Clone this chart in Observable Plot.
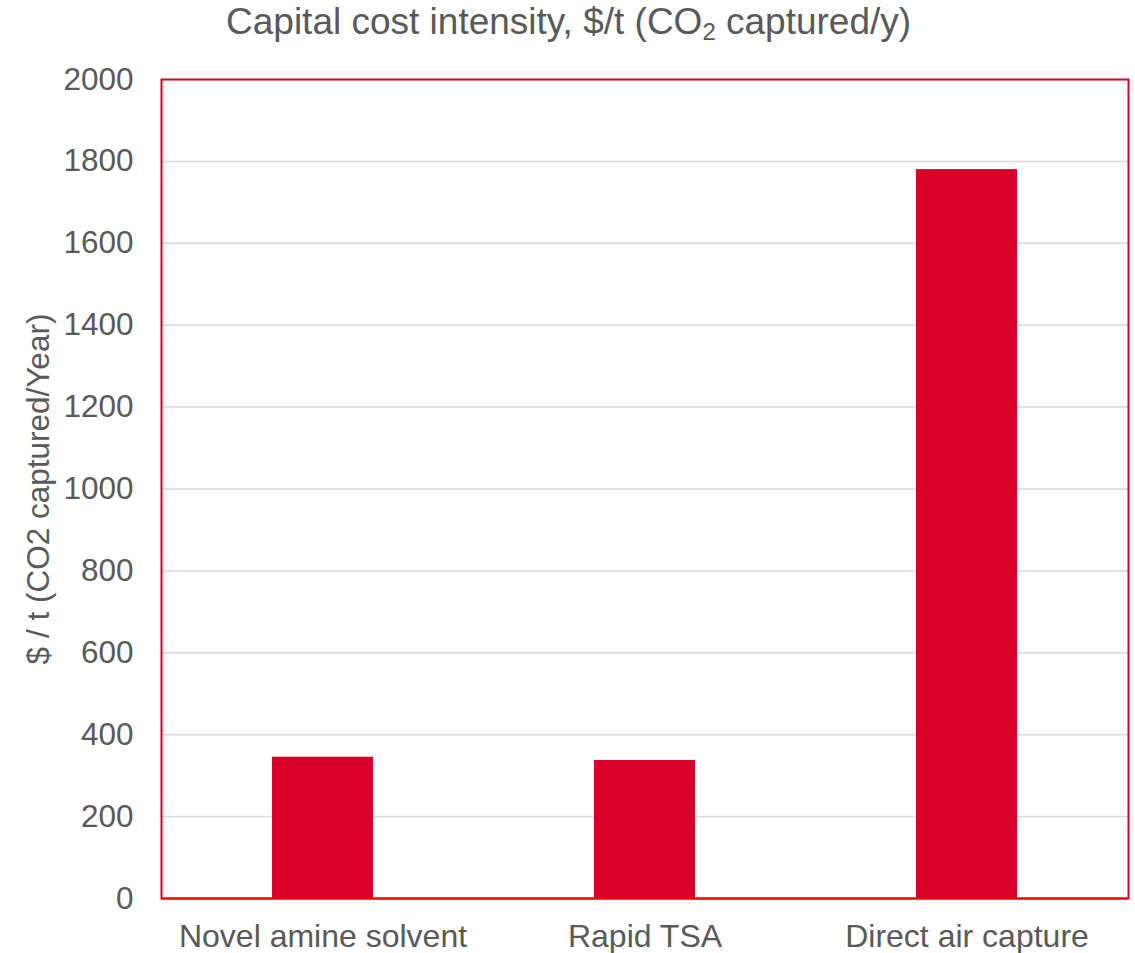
<!DOCTYPE html>
<html>
<head>
<meta charset="utf-8">
<script src="https://cdn.jsdelivr.net/npm/d3@7"></script>
<script src="https://cdn.jsdelivr.net/npm/@observablehq/plot@0.6"></script>
<style>
  body { margin: 0; background: #fff; }
  #chart { position: relative; width: 1135px; font-family: "Liberation Sans", Arial, sans-serif; color: #595959; }
  #title { height: 60px; position: relative; }
  #title span { position: absolute; left: 226px; top: 3px; font-size: 37px; line-height: 37px; white-space: nowrap; }
  #title sub { font-size: 0.65em; vertical-align: -0.25em; line-height: 0; }
  svg { display: block; }
</style>
</head>
<body>
<div id="chart">
  <div id="title"><span>Capital cost intensity, $/t (CO<sub>2</sub> captured/y)</span></div>
</div>
<script>
// Capture technologies and their capital cost intensity ($ per t CO2 captured per year)
const technologies = ["Novel amine solvent", "Rapid TSA", "Direct air capture"];
const costs = [345, 337, 1780];
const yTicks = [0, 200, 400, 600, 800, 1000, 1200, 1400, 1600, 1800, 2000];
const yLabel = "$ / t (CO2 captured/Year)";

const data = technologies.map((t, i) => ({technology: t, cost: costs[i]}));

const chart = Plot.plot({
  width: 1135,
  height: 893,
  marginTop: 19,
  marginBottom: 55,
  marginLeft: 161,
  marginRight: 7,
  style: {fontFamily: "'Liberation Sans', Arial, sans-serif", color: "#595959", background: "#fff"},
  x: {domain: technologies, paddingInner: 0.686, paddingOuter: 0.343, label: null},
  y: {domain: [0, 2000], label: null},
  marks: [
    Plot.gridY(yTicks, {stroke: "#d9d9d9", strokeOpacity: 1, strokeWidth: 1.5}),
    Plot.barY(data, {x: "technology", y: "cost", fill: "#d7002a"}),
    Plot.frame({stroke: "#d6002a", strokeWidth: 2}),
    Plot.ruleY([0], {stroke: "#ff0000", strokeWidth: 2}),
    Plot.axisY(yTicks, {tickSize: 0, tickPadding: 28, fontSize: 31.5, fill: "#595959", label: null, tickFormat: d => String(d)}),
    Plot.axisX({tickSize: 0, tickPadding: 26, fontSize: 32, fill: "#595959", label: null}),
    Plot.text([yLabel], {frameAnchor: "left", dx: -123, rotate: -90, fontSize: 31.5, fill: "#595959", textAnchor: "middle", lineAnchor: "middle"})
  ]
});
document.getElementById("chart").appendChild(chart);
</script>
</body>
</html>
